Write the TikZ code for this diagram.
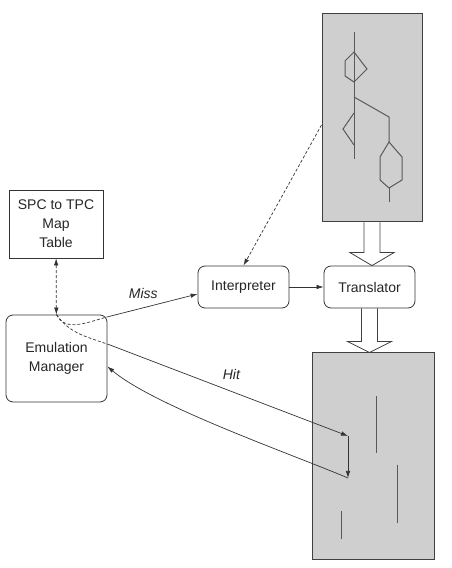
\documentclass[tikz,border=0pt]{standalone}
\usepackage{fontspec}
\setmainfont{Liberation Sans}
\usetikzlibrary{arrows.meta, calc, positioning}

\begin{document}
\begin{tikzpicture}[>={Latex[length=7pt, width=4.5pt]}, x=1pt, y=1pt, node distance = 126pt, on grid,
    every node/.style={font=\fontsize{14}{19}\selectfont, text=black!85},
    plainbox/.style={draw=black!80, line width=0.8pt, align=center, inner sep=2pt},
    roundbox/.style={plainbox, rounded corners=7pt},
    codebox/.style={draw=black!75, line width=1pt, fill=gray!38, inner sep=0pt},
    flow/.style={draw=black!80, line width=0.7pt},
    dashflow/.style={flow, dash pattern=on 3pt off 2pt},
    blockarrow/.style={draw=black!75, line width=0.8pt},
    codeline/.style={draw=black!65, line width=1pt}]
  \useasboundingbox (0,0) rectangle (452,568);

  % Boxes
  \node[plainbox, minimum width=94pt, minimum height=68pt]   (spc)    at (56,344)     {SPC to TPC\\Map\\Table};
  \node[roundbox, minimum width=101pt, minimum height=87pt]  (em)     at (56.5,209.5) {Emulation\\Manager};
  \node[roundbox, minimum width=91pt, minimum height=42pt]   (interp) at (243.5,281)  {Interpreter};
  \node[roundbox, minimum width=91pt, minimum height=42pt]   (trans)  [right=of interp] {Translator};
  \node[codebox, minimum width=100pt, minimum height=208pt]  (src)    at (372,450)    {};
  \node[codebox, minimum width=122pt, minimum height=207pt]  (cache)  at (373,111.5)  {};

  % Code inside the boxes
  \begin{scope}[shift={(0,568)}, yscale=-1]
    \draw[codeline] (354,32) -- (354,159);
    \draw[codeline] (354,52) -- (345,61) -- (345,76) -- (354,82) -- (367,69) -- cycle;
    \draw[codeline] (354,97) -- (389,117) -- (389,142);
    \draw[codeline] (354,113) -- (343,129) -- (354,145);
    \draw[codeline] (389,142) -- (380,157) -- (380,180) -- (389,188) -- (402,180) -- (402,157) -- cycle;
    \draw[codeline] (389,188) -- (389,202);
    \draw[codeline] (376,396) -- (376,453);
    \draw[codeline] (397,465) -- (397,523);
    \draw[codeline] (341,511) -- (341,539);
  \end{scope}

  % Free ends
  \coordinate (miss0) at (107,251);
  \coordinate (hit0)  at (110,223);
  \coordinate (hitA)  at (348,132);
  \coordinate (hitB)  at (348,90);

  % Block arrows
  \draw[blockarrow] let \p1 = (src.south), \p2 = (trans.north) in
    (\x1-8pt,\y1) -- (\x1-8pt,\y2+13pt) -- (\x1-22pt,\y2+13pt) -- (\x1,\y2)
    -- (\x1+22pt,\y2+13pt) -- (\x1+8pt,\y2+13pt) -- (\x1+8pt,\y1);
  \draw[blockarrow] let \p1 = (trans.south), \p2 = (cache.north) in
    (\x1-8pt,\y1) -- (\x1-8pt,\y2+11pt) -- (\x1-22pt,\y2+11pt) -- (\x1,\y2)
    -- (\x1+22pt,\y2+11pt) -- (\x1+8pt,\y2+11pt) -- (\x1+8pt,\y1);

  % Connectors
  \draw[dashflow, <->] (spc) -- (em);
  \draw[dashflow] (em.north) to[out=-65, in=195] (miss0);
  \draw[dashflow] (em.north) to[out=-55, in=160] (hit0);
  \draw[flow, ->] (miss0) -- node[pos=0.4, above=5pt] {\itshape Miss} ([yshift=-7pt]interp.west);
  \draw[flow, ->] (interp) -- (trans);
  \draw[dashflow, ->] ([yshift=-7pt]src.west) -- (interp.north);
  \draw[flow, ->] (hit0) -- node[pos=0.51, above=8pt] {\itshape Hit} (hitA);
  \draw[flow, ->] (hitA) -- (hitB);
  \draw[flow, ->] (hitB) to[out=157, in=-40, looseness=0.6] ([yshift=-8pt]em.east);
\end{tikzpicture}
\end{document}
